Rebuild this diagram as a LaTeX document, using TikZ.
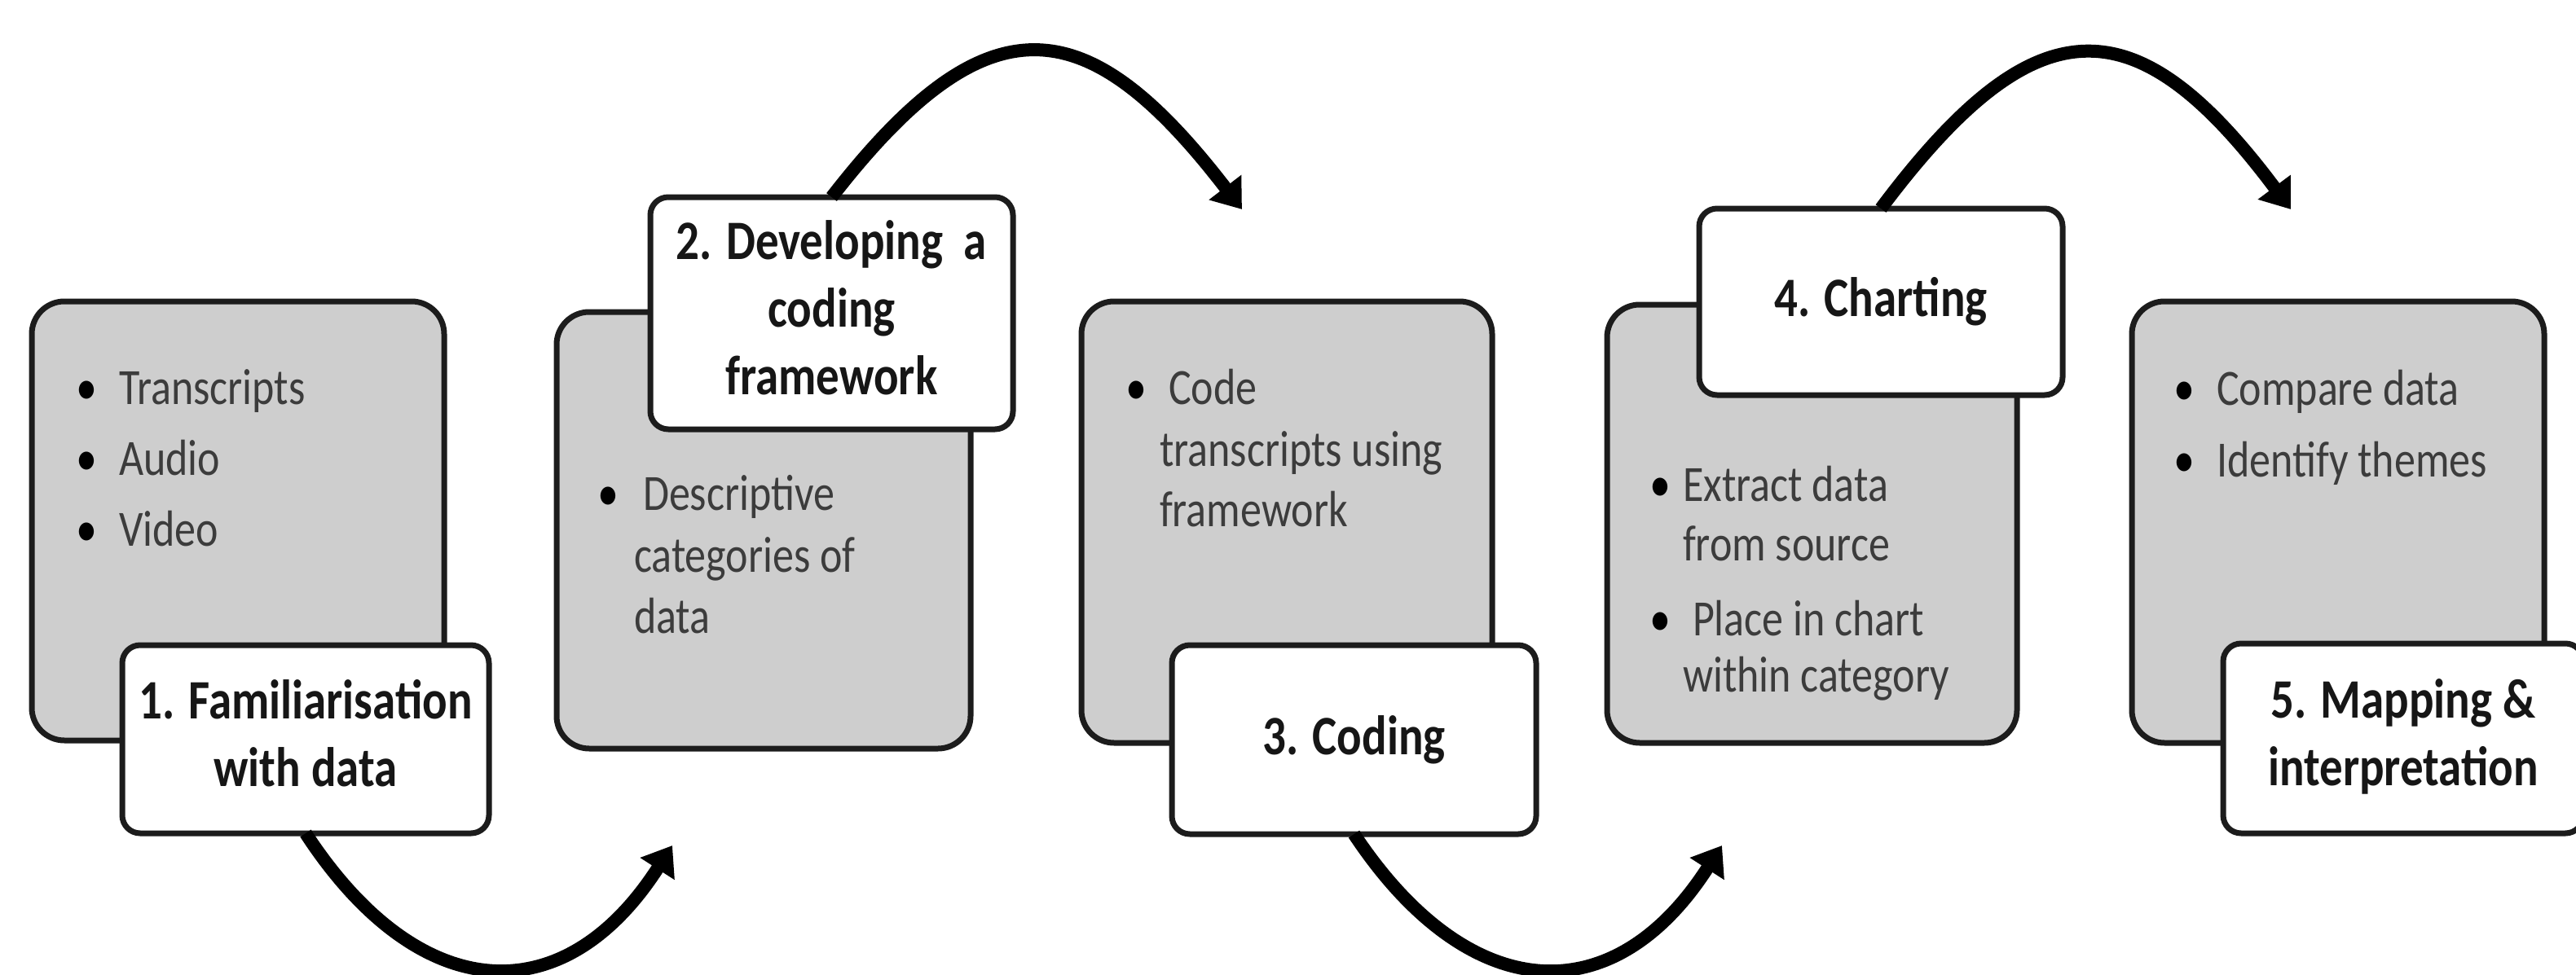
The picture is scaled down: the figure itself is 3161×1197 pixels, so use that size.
\documentclass[tikz,border=0pt]{standalone}
\usepackage{fontspec}
\setmainfont{Carlito}
\usetikzlibrary{arrows.meta}

\definecolor{boxfill}{RGB}{206,206,206}
\definecolor{edge}{RGB}{28,28,28}
\definecolor{bodytext}{RGB}{60,60,60}
\definecolor{headtext}{RGB}{22,22,22}

% text in this figure is set slightly taller than wide
\newcommand\tallr[1]{\scalebox{1}[1.2]{#1}}

\begin{document}
\begin{tikzpicture}[x=0.1mm, y=-0.1mm,
  panel/.style={draw=edge, line width=0.7mm, fill=boxfill, rounded corners=4mm,
                inner sep=0pt, outer sep=0pt},
  tag/.style={draw=edge, line width=0.7mm, fill=white, rounded corners=2.2mm,
              inner sep=0pt, outer sep=0pt, align=center,
              font=\fontsize{16.2}{19.7}\selectfont\bfseries, text=headtext},
  body/.style={anchor=base west, inner sep=0pt, outer sep=0pt,
               font=\fontsize{14.8}{17.8}\selectfont, text=bodytext},
  dot/.style={anchor=base, inner sep=0pt, outer sep=0pt,
              font=\fontsize{14.8}{17.8}\selectfont, text=black},
  flow/.style={draw=black, line width=1.6mm,
               -{Triangle[length=3.4mm,width=4.8mm]}},
]
\useasboundingbox (0,0) rectangle (3161,1197);
\clip (0,0) rectangle (3161,1197);

% grey content panels
\node[panel, minimum width=50.6mm, minimum height=53.9mm] (p1) at (292,639.5) {};
\node[panel, minimum width=50.8mm, minimum height=53.6mm] (p2) at (937,651) {};
\node[panel, minimum width=50.4mm, minimum height=54.2mm] (p3) at (1579,641) {};
\node[panel, minimum width=50.3mm, minimum height=53.8mm] (p4) at (2223.5,643) {};
\node[panel, minimum width=50.6mm, minimum height=54.2mm] (p5) at (2869,641) {};

% end points of the curved arrows
\coordinate (e1) at (825,1038);
\coordinate (e2) at (1524,257);
\coordinate (e3) at (2113,1038);
\coordinate (e4) at (2811,257);

% step labels
\node[tag, minimum width=45.0mm, minimum height=23.1mm] (s1) at (375,907.5)
  {\tallr{\begin{tabular}{@{}c@{}}1. Familiarisation\\ with data\end{tabular}}};
\node[tag, minimum width=44.5mm, minimum height=28.5mm] (s2) at (1020.5,384.5)
  {\tallr{\begin{tabular}{@{}c@{}}2. Developing~ a\\ coding\\ framework\end{tabular}}};
\node[tag, minimum width=44.7mm, minimum height=23.2mm] (s3) at (1661.5,908)
  {\tallr{3. Coding}};
\node[tag, minimum width=44.6mm, minimum height=22.9mm] (s4) at (2308,370.5)
  {\tallr{4. Charting}};
\node[tag, minimum width=44.2mm, minimum height=23.3mm] (s5) at (2949,906.5)
  {\tallr{\begin{tabular}{@{}c@{}}5. Mapping \&\\ interpretation\end{tabular}}};

% curved arrows between the steps
\draw[flow] (s1.south) .. controls (512,1233) and (690,1248) .. (e1);
\draw[flow] (s2.north) .. controls (1212,-5) and (1334,10) .. (e2);
\draw[flow] (s3.south) .. controls (1800,1233) and (1978,1248) .. (e3);
\draw[flow] (s4.north) .. controls (2498,2) and (2621,3) .. (e4);

% panel 1 bullets
\node[dot]  (d1a) at (106,496) {\tallr{•}};
\node[body] (t1a) at (146,496) {\tallr{Transcripts}};
\node[dot]  (d1b) at (106,583) {\tallr{•}};
\node[body] (t1b) at (146,583) {\tallr{Audio}};
\node[dot]  (d1c) at (106,670) {\tallr{•}};
\node[body] (t1c) at (146,670) {\tallr{Video}};

% panel 2 bullets
\node[dot]  (d2a) at (746,626) {\tallr{•}};
\node[body] (t2a) at (789,626) {\tallr{Descriptive}};
\node[body] (t2b) at (778,702) {\tallr{categories of}};
\node[body] (t2c) at (778,777) {\tallr{data}};

% panel 3 bullets
\node[dot]  (d3a) at (1394,496) {\tallr{•}};
\node[body] (t3a) at (1434,496) {\tallr{Code}};
\node[body] (t3b) at (1423,572) {\tallr{transcripts using}};
\node[body] (t3c) at (1423,646) {\tallr{framework}};

% panel 4 bullets
\node[dot]  (d4a) at (2037,615) {\tallr{•}};
\node[body] (t4a) at (2065,615) {\tallr{Extract data}};
\node[body] (t4b) at (2065,688) {\tallr{from source}};
\node[dot]  (d4b) at (2037,780) {\tallr{•}};
\node[body] (t4c) at (2077,780) {\tallr{Place in chart}};
\node[body] (t4d) at (2065,849) {\tallr{within category}};

% panel 5 bullets
\node[dot]  (d5a) at (2680,497) {\tallr{•}};
\node[body] (t5a) at (2720,497) {\tallr{Compare data}};
\node[dot]  (d5b) at (2680,585) {\tallr{•}};
\node[body] (t5b) at (2720,585) {\tallr{Identify themes}};
\end{tikzpicture}
\end{document}
